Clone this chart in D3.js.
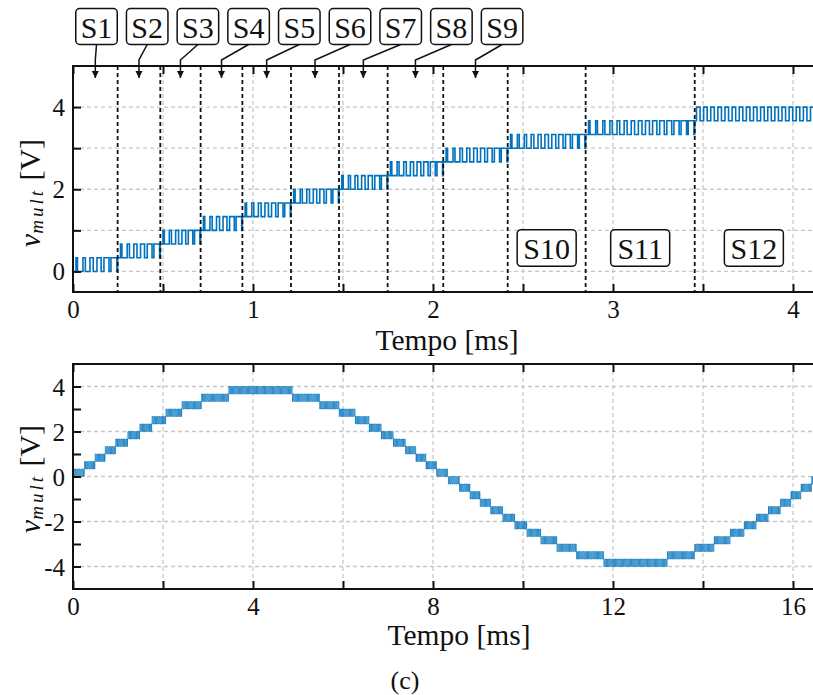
<!DOCTYPE html>
<html>
<head>
<meta charset="utf-8">
<script src="https://cdn.jsdelivr.net/npm/d3@7"></script>
<style>
  body { margin: 0; background: #fff; }
  svg { display: block; }
  text { font-family: "Liberation Serif", "Times New Roman", serif; fill: #111; }
</style>
</head>
<body>
<script>
// sector boundaries of the first quarter cycle (ms)
const sectorEdges = [0, 0.248, 0.485, 0.709, 0.941, 1.211, 1.478, 1.748, 2.057, 2.415, 2.848, 3.454, 4.879];
// level index per sector: output toggles between (k-1)/3 and k/3 V
const sectorLevels = [1, 2, 3, 4, 5, 6, 7, 8, 9, 10, 11, 12];
const sectorNames = ['S1', 'S2', 'S3', 'S4', 'S5', 'S6', 'S7', 'S8', 'S9', 'S10', 'S11', 'S12'];

// full cycle for the bottom panel (ms)
const cycleEdges = [0, 0.248, 0.485, 0.709, 0.941, 1.211, 1.478, 1.748, 2.057, 2.415, 2.848, 3.454,
  4.879, 5.485, 5.918, 6.276, 6.585, 6.855, 7.122, 7.392, 7.624, 7.848, 8.085, 8.333,
  8.581, 8.818, 9.042, 9.274, 9.544, 9.811, 10.081, 10.390, 10.748, 11.181, 11.787,
  13.212, 13.818, 14.251, 14.609, 14.918, 15.188, 15.455, 15.725, 15.957, 16.181, 16.418, 16.667];
const cycleLevels = [1, 2, 3, 4, 5, 6, 7, 8, 9, 10, 11, 12, 11, 10, 9, 8, 7, 6, 5, 4, 3, 2, 1,
  -1, -2, -3, -4, -5, -6, -7, -8, -9, -10, -11, -12, -11, -10, -9, -8, -7, -6, -5, -4, -3, -2, -1];

// carrier period of the PWM (ms)
const carrierPeriod = 0.04;

// ticks
const topXTicks = [0, 0.5, 1, 1.5, 2, 2.5, 3, 3.5, 4];
const topXLabels = [0, 1, 2, 3, 4];
const topYTicks = [0, 1, 2, 3, 4];
const topYLabels = [0, 2, 4];
const botXTicks = [0, 2, 4, 6, 8, 10, 12, 14, 16];
const botXLabels = [0, 4, 8, 12, 16];
const botYTicks = [-4, -3, -2, -1, 0, 1, 2, 3, 4];
const botYLabels = [-4, -2, 0, 2, 4];

const W = 813, H = 695;
const blue = '#0072BD';

const svg = d3.select('body').append('svg')
  .attr('width', W)
  .attr('height', H);

const defs = svg.append('defs');
defs.append('marker')
  .attr('id', 'arrow')
  .attr('viewBox', '0 0 10 10')
  .attr('refX', 10).attr('refY', 5)
  .attr('markerWidth', 7).attr('markerHeight', 8)
  .attr('markerUnits', 'userSpaceOnUse')
  .attr('orient', 'auto')
  .append('path')
  .attr('d', 'M0,0 L10,5 L0,10 Z')
  .attr('fill', '#111');

// build square wave points from steps
function pwmPoints(edges, levels, ramp) {
  const pts = [];
  levels.forEach((k, i) => {
    const t0 = edges[i], t1 = edges[i + 1];
    const lo = (k > 0 ? k - 1 : k + 1) / 3;
    const hi = k / 3;
    const n = Math.max(1, Math.round((t1 - t0) / carrierPeriod));
    const w = (t1 - t0) / n;
    for (let j = 0; j < n; j++) {
      let d = 0.5;
      if (ramp && Math.abs(k) < 12) d = 0.2 + 0.6 * (n > 1 ? j / (n - 1) : 0.5);
      const c = t0 + (j + 0.5) * w;
      pts.push([t0 + j * w, lo], [c - d * w / 2, lo], [c - d * w / 2, hi], [c + d * w / 2, hi], [c + d * w / 2, lo]);
    }
    pts.push([t1, lo]);
  });
  return pts;
}

function panel(opts) {
  const { left, top, bottom, x, y, id } = opts;
  const g = svg.append('g');

  g.append('clipPath').attr('id', id)
    .append('rect')
    .attr('x', left).attr('y', top)
    .attr('width', W - left + 5).attr('height', bottom - top);

  // grid
  g.append('g').selectAll('line.gx')
    .data(opts.gridX)
    .join('line')
    .attr('x1', d => x(d)).attr('x2', d => x(d))
    .attr('y1', top).attr('y2', bottom)
    .attr('stroke', '#c8c8c8').attr('stroke-width', 1.3)
    .attr('stroke-dasharray', '4,3');
  g.append('g').selectAll('line.gy')
    .data(opts.gridY)
    .join('line')
    .attr('x1', left).attr('x2', W + 5)
    .attr('y1', d => y(d)).attr('y2', d => y(d))
    .attr('stroke', '#c8c8c8').attr('stroke-width', 1.3)
    .attr('stroke-dasharray', '4,3');

  // waveform
  const line = d3.line().x(p => x(p[0])).y(p => y(p[1]));
  g.append('path')
    .attr('clip-path', `url(#${id})`)
    .datum(opts.points)
    .attr('fill', 'none')
    .attr('stroke', blue)
    .attr('stroke-width', opts.lineWidth)
    .attr('stroke-linejoin', 'miter')
    .attr('d', line);

  return g;
}

function axes(g, opts) {
  const { left, top, bottom, x, y } = opts;
  const ax = g.append('g').attr('transform', `translate(0,${bottom})`)
    .call(d3.axisBottom(x).tickValues(opts.xTicks).tickSize(-8).tickPadding(8)
      .tickFormat(d => opts.xLabels.includes(d) ? d : ''));
  const at = g.append('g').attr('transform', `translate(0,${top})`)
    .call(d3.axisTop(x).tickValues(opts.xTicks).tickSize(-8).tickFormat(''));
  const ay = g.append('g').attr('transform', `translate(${left},0)`)
    .call(d3.axisLeft(y).tickValues(opts.yTicks).tickSize(-8).tickPadding(8)
      .tickFormat(d => opts.yLabels.includes(d) ? d : ''));
  [ax, at, ay].forEach(a => {
    a.select('.domain').remove();
    a.selectAll('.tick line').attr('stroke', '#111').attr('stroke-width', 2);
    a.selectAll('.tick text').attr('font-size', 25)
      .attr('font-family', '"Liberation Serif", serif').attr('fill', '#111');
  });
  ay.selectAll('.tick text').attr('dy', '0.34em');

  // frame
  g.append('path')
    .attr('d', `M${W + 5},${top} H${left} V${bottom} H${W + 5}`)
    .attr('fill', 'none').attr('stroke', '#111').attr('stroke-width', 2);

  // axis titles
  g.append('text')
    .attr('x', opts.titleX).attr('y', opts.titleY)
    .attr('text-anchor', 'middle').attr('font-size', 29.5)
    .text('Tempo [ms]');
  const yl = g.append('text')
    .attr('transform', `translate(40,${opts.labelY}) rotate(-90)`)
    .attr('text-anchor', 'middle').attr('font-size', 30);
  yl.append('tspan').attr('font-style', 'italic').text('v');
  yl.append('tspan').attr('font-style', 'italic').attr('font-size', 19)
    .attr('letter-spacing', 3).attr('dy', 3).text('mult');
  yl.append('tspan').attr('dy', -3).text(' [V]');
}

// ---------- top panel ----------
const tLeft = 73, tTop = 66, tBottom = 292;
const xT = d3.scaleLinear().domain([0, 4.2]).range([tLeft, tLeft + 180 * 4.2]);
const yT = d3.scaleLinear().domain([-0.5, 5]).range([tBottom, tTop]);

const gTop = panel({
  id: 'clipTop', left: tLeft, top: tTop, bottom: tBottom, x: xT, y: yT,
  gridX: topXTicks.slice(1), gridY: topYTicks,
  points: pwmPoints(sectorEdges, sectorLevels, true), lineWidth: 1.6
});

// sector boundaries
gTop.append('g').selectAll('line')
  .data(sectorEdges.slice(1, -1))
  .join('line')
  .attr('x1', d => xT(d)).attr('x2', d => xT(d))
  .attr('y1', tTop).attr('y2', tBottom)
  .attr('stroke', '#111').attr('stroke-width', 1.8)
  .attr('stroke-dasharray', '4,3');

axes(gTop, {
  left: tLeft, top: tTop, bottom: tBottom, x: xT, y: yT,
  xTicks: topXTicks, xLabels: topXLabels, yTicks: topYTicks, yLabels: topYLabels,
  titleX: 447, titleY: 350, labelY: 193
});

// sector labels
const xMaxVisible = xT.invert(W);
const sectors = sectorNames.map((name, i) => ({
  name,
  mid: (sectorEdges[i] + Math.min(sectorEdges[i + 1], xMaxVisible)) / 2
}));

const outside = sectors.slice(0, 9);
const inside = sectors.slice(9);

const gLab = svg.append('g');
outside.forEach((s, i) => {
  const cx = 96.5 + 50.7 * i;
  const tx = xT(s.mid);
  gLab.append('path')
    .attr('d', `M${cx},44.5 L${tx},60 L${tx},78`)
    .attr('fill', 'none').attr('stroke', '#111').attr('stroke-width', 1.5)
    .attr('marker-end', 'url(#arrow)');
  gLab.append('rect')
    .attr('x', cx - 20.75).attr('y', 8.5)
    .attr('width', 41.5).attr('height', 36)
    .attr('rx', 4)
    .attr('fill', '#fff').attr('stroke', '#111').attr('stroke-width', 1.5);
  gLab.append('text')
    .attr('x', cx).attr('y', 37.5)
    .attr('text-anchor', 'middle').attr('font-size', 30)
    .text(s.name);
});

inside.forEach(s => {
  const cx = xT(s.mid);
  const cy = yT(0.57);
  gLab.append('rect')
    .attr('x', cx - 29.5).attr('y', cy - 18.3)
    .attr('width', 59).attr('height', 36.6)
    .attr('rx', 4)
    .attr('fill', '#fff').attr('stroke', '#111').attr('stroke-width', 1.5);
  gLab.append('text')
    .attr('x', cx).attr('y', cy + 10.5)
    .attr('text-anchor', 'middle').attr('font-size', 30)
    .text(s.name);
});

// ---------- bottom panel ----------
const bLeft = 73, bTop = 364, bBottom = 589;
const xB = d3.scaleLinear().domain([0, 17]).range([bLeft, bLeft + 45 * 17]);
const yB = d3.scaleLinear().domain([-5, 5]).range([bBottom, bTop]);

const gBot = panel({
  id: 'clipBot', left: bLeft, top: bTop, bottom: bBottom, x: xB, y: yB,
  gridX: botXTicks.slice(1), gridY: botYLabels,
  points: pwmPoints(cycleEdges, cycleLevels, false), lineWidth: 0.8
});

axes(gBot, {
  left: bLeft, top: bTop, bottom: bBottom, x: xB, y: yB,
  xTicks: botXTicks, xLabels: botXLabels, yTicks: botYTicks, yLabels: botYLabels,
  titleX: 459, titleY: 645, labelY: 479
});

svg.append('text')
  .attr('x', 405).attr('y', 689)
  .attr('text-anchor', 'middle').attr('font-size', 26)
  .text('(c)');
</script>
</body>
</html>
